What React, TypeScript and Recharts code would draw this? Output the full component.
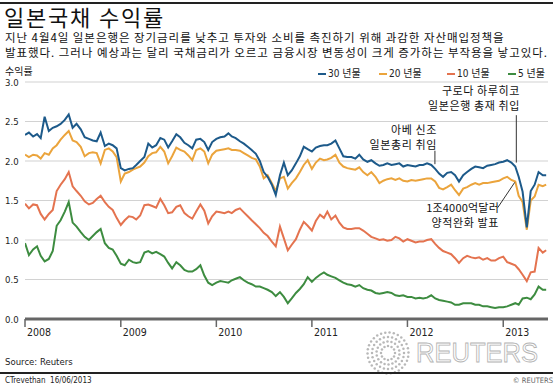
import React from 'react';
import { LineChart, Line, XAxis, YAxis, CartesianGrid, ReferenceLine } from 'recharts';

// Half-monthly observation dates (1st and 16th of each month), Jan 2008 - Jun 2013
const dates: string[] = [];
for (let y = 2008; y <= 2013; y++) {
  for (let m = 1; m <= 12; m++) {
    for (const d of [1, 16]) {
      if (y === 2013 && (m > 6 || (m === 6 && d === 16))) continue;
      dates.push(`${y}-${String(m).padStart(2, '0')}-${String(d).padStart(2, '0')}`);
    }
  }
}
dates.push('2013-06-14');

const yield30 = [
  2.33, 2.36, 2.31, 2.34, 2.29, 2.56, 2.38, 2.42, 2.44, 2.47,
  2.52, 2.59, 2.42, 2.47, 2.40, 2.30, 2.28, 2.26, 2.25, 2.36,
  2.19, 2.22, 2.20, 2.16, 1.91, 1.88, 1.90, 1.91, 1.95, 2.00,
  2.05, 2.22, 2.17, 2.20, 2.29, 2.27, 2.17, 2.25, 2.34, 2.30,
  2.23, 2.20, 2.16, 2.27, 2.28, 2.24, 2.14, 2.24, 2.28, 2.30,
  2.31, 2.35, 2.31, 2.29, 2.25, 2.22, 2.18, 2.14, 2.09, 2.00,
  1.86, 1.80, 1.70, 1.57, 1.82, 1.98, 1.82, 1.88, 1.97, 2.06,
  2.18, 2.15, 2.12, 2.17, 2.19, 2.20, 2.20, 2.22, 2.26, 2.16,
  2.06, 2.05, 2.05, 2.03, 2.08, 2.02, 1.99, 2.01, 1.97, 1.94,
  1.95, 1.97, 1.95, 1.96, 1.97, 1.93, 1.95, 1.94, 1.93, 1.95,
  1.95, 1.97, 1.95, 1.90, 1.84, 1.80, 1.85, 1.86, 1.82, 1.74,
  1.82, 1.86, 1.90, 1.93, 1.92, 1.91, 1.94, 1.95, 1.96, 1.98,
  1.99, 2.01, 1.98, 1.93, 1.80, 1.61, 1.16, 1.62, 1.70, 1.86,
  1.82, 1.82,
];

const yield20 = [
  2.08, 2.05, 2.08, 2.07, 2.03, 2.10, 2.08, 2.16, 2.20, 2.27,
  2.33, 2.38, 2.26, 2.24, 2.18, 2.06, 2.10, 2.11, 2.10, 1.97,
  2.14, 2.16, 2.12, 2.05, 1.74, 1.84, 1.86, 1.89, 1.91, 1.93,
  1.98, 2.06, 2.10, 2.11, 2.18, 2.12, 1.97, 2.06, 2.17, 2.14,
  2.12, 2.07, 2.01, 2.14, 2.16, 2.12, 1.97, 2.08, 2.13, 2.14,
  2.15, 2.16, 2.14, 2.14, 2.13, 2.10, 2.07, 2.04, 2.02, 1.93,
  1.78, 1.82, 1.72, 1.62, 1.78, 1.80, 1.65, 1.72, 1.78, 1.86,
  1.95, 2.01, 1.90, 1.98, 2.03, 2.01, 2.02, 2.04, 2.08, 1.98,
  1.93, 1.91, 1.90, 1.89, 1.92, 1.86, 1.82, 1.86, 1.80, 1.72,
  1.75, 1.77, 1.78, 1.76, 1.78, 1.75, 1.74, 1.76, 1.75, 1.76,
  1.77, 1.78, 1.78, 1.74, 1.66, 1.64, 1.67, 1.70, 1.63, 1.57,
  1.65, 1.67, 1.70, 1.72, 1.70, 1.72, 1.72, 1.73, 1.74, 1.75,
  1.78, 1.80, 1.76, 1.74, 1.56, 1.48, 1.13, 1.50, 1.55, 1.70,
  1.68, 1.70,
];

const yield10 = [
  1.46, 1.40, 1.45, 1.44, 1.33, 1.26, 1.33, 1.38, 1.62, 1.70,
  1.77, 1.86, 1.68, 1.62, 1.56, 1.49, 1.45, 1.47, 1.52, 1.56,
  1.48, 1.42, 1.38, 1.28, 1.19, 1.25, 1.30, 1.29, 1.26, 1.31,
  1.44, 1.45, 1.43, 1.41, 1.52, 1.44, 1.34, 1.35, 1.42, 1.44,
  1.34, 1.30, 1.27, 1.36, 1.45, 1.37, 1.21, 1.30, 1.36, 1.35,
  1.34, 1.36, 1.34, 1.38, 1.40, 1.35, 1.30, 1.25, 1.20, 1.15,
  1.09, 1.05, 0.98, 0.92, 1.17, 1.02, 0.87, 0.94, 1.01, 1.13,
  1.23, 1.18, 1.12, 1.24, 1.32, 1.28, 1.36, 1.26, 1.31, 1.22,
  1.16, 1.14, 1.14, 1.15, 1.15, 1.12, 1.08, 1.04, 1.02, 1.00,
  1.01, 0.99, 1.00, 1.04, 1.02, 0.98, 1.01, 0.99, 0.97, 0.98,
  0.98, 1.00, 1.01, 0.95, 0.90, 0.86, 0.84, 0.82, 0.77, 0.71,
  0.77, 0.80, 0.78, 0.77, 0.78, 0.75, 0.77, 0.74, 0.74, 0.77,
  0.79, 0.72, 0.70, 0.68, 0.63, 0.56, 0.48, 0.59, 0.60, 0.90,
  0.84, 0.87,
];

const yield5 = [
  0.96, 0.81, 0.88, 0.92, 0.80, 0.73, 0.76, 0.86, 1.18, 1.25,
  1.36, 1.48, 1.22, 1.17, 1.10, 1.04, 1.00, 1.05, 1.10, 1.14,
  0.96, 0.90, 0.88, 0.80, 0.70, 0.68, 0.75, 0.72, 0.71, 0.72,
  0.84, 0.86, 0.83, 0.85, 0.82, 0.79, 0.71, 0.64, 0.72, 0.68,
  0.62, 0.60, 0.60, 0.63, 0.68, 0.55, 0.46, 0.43, 0.46, 0.48,
  0.47, 0.46, 0.49, 0.51, 0.53, 0.49, 0.46, 0.44, 0.41, 0.41,
  0.39, 0.37, 0.34, 0.29, 0.34, 0.28, 0.20, 0.26, 0.33, 0.38,
  0.44, 0.53, 0.47, 0.52, 0.56, 0.59, 0.56, 0.54, 0.52, 0.49,
  0.46, 0.44, 0.43, 0.41, 0.43, 0.39, 0.37, 0.36, 0.33, 0.32,
  0.33, 0.34, 0.33, 0.30, 0.29, 0.30, 0.28, 0.28, 0.26, 0.27,
  0.26, 0.27, 0.30, 0.26, 0.24, 0.23, 0.22, 0.21, 0.18, 0.18,
  0.20, 0.20, 0.20, 0.18, 0.18, 0.16, 0.16, 0.15, 0.14, 0.15,
  0.15, 0.16, 0.18, 0.20, 0.18, 0.26, 0.27, 0.25, 0.31, 0.41,
  0.37, 0.37,
];

const yearTicks = [2008, 2009, 2010, 2011, 2012, 2013];
const yTicks = [0, 0.5, 1.0, 1.5, 2.0, 2.5, 3.0];

const seriesNames = ['30 년물', '20 년물', '10 년물', '5 년물'];
const seriesColors = ['#1d5a8a', '#eba43c', '#e4734f', '#3d8c40'];

const title = '일본국채 수익률';
const subtitle1 = '지난 4월4일 일본은행은 장기금리를 낮추고 투자와 소비를 촉진하기 위해 과감한 자산매입정책을';
const subtitle2 = '발표했다. 그러나 예상과는 달리 국채금리가 오르고 금융시장 변동성이 크게 증가하는 부작용을 낳고있다.';

// annotation anchors (date, yield)
const kurodaDate = '2013-02-20';
const abeDate = '2012-04-15';
const qeFrom = { date: '2012-12-11', v: 1.41 };
const qeTo = { date: '2013-02-14', v: 1.73 };

const ts = (s: string) => {
  const [y, m, d] = s.split('-').map(Number);
  return Date.UTC(y, m - 1, d);
};

const data = dates.map((d, i) => ({
  t: ts(d),
  y30: yield30[i],
  y20: yield20[i],
  y10: yield10[i],
  y5: yield5[i],
}));

const NARROW = '"Liberation Sans Narrow", "DejaVu Sans Condensed", "Noto Sans CJK KR", sans-serif';
const KR = '"Noto Sans CJK KR", "Noto Sans", sans-serif';

const XTick = (props: any) => {
  const { x, y, payload } = props;
  return (
    <text x={x + 2} y={y + 7} fontSize={10.5} fontFamily={NARROW} fill="#222" textAnchor="start">
      {new Date(payload.value).getUTCFullYear()}
    </text>
  );
};

const YTick = (props: any) => {
  const { y, payload } = props;
  return (
    <text x={5} y={y + 3.5} fontSize={9.5} fontFamily={NARROW} fill="#222" textAnchor="start">
      {Number(payload.value).toFixed(1)}
    </text>
  );
};

const abs = (s: React.CSSProperties): React.CSSProperties => ({ position: 'absolute', whiteSpace: 'nowrap', ...s });

const legendX = [318, 379, 447, 508];

const note = (right: number, top: number, line1: string, line2: string, ls1 = 0.6) => (
  <div style={abs({ right: 560 - right, top, fontSize: 11, lineHeight: '14.5px', color: '#111', letterSpacing: 0.6, textAlign: 'right' })}>
    <span style={{ letterSpacing: ls1 }}>{line1}</span>
    <br />
    {line2}
  </div>
);

function ReutersLogo() {
  const rings = [
    { r: 7, n: 12 },
    { r: 11.5, n: 18 },
    { r: 16, n: 24 },
    { r: 20.5, n: 30 },
  ];
  const cx = 388;
  const cy = 353;
  const dots: React.ReactNode[] = [];
  rings.forEach((ring, ri) => {
    for (let k = 0; k < ring.n; k++) {
      const a = (k / ring.n) * Math.PI * 2 + ri * 0.13;
      dots.push(
        <circle key={`${ri}-${k}`} cx={cx + ring.r * Math.cos(a)} cy={cy + ring.r * Math.sin(a)} r={1.25} fill="#b8b8b8" />
      );
    }
  });
  return (
    <svg width={560} height={384} style={{ position: 'absolute', left: 0, top: 0, pointerEvents: 'none' }}>
      {dots}
      <text
        x={416}
        y={362}
        fontSize={28}
        fontFamily='"Liberation Sans", sans-serif'
        fill="none"
        stroke="#b4b4b4"
        strokeWidth={0.9}
        textLength={122}
        lengthAdjust="spacingAndGlyphs"
      >
        REUTERS
      </text>
    </svg>
  );
}

export default function App() {
  return (
    <div style={{ position: 'absolute', left: 0, top: 0, width: 560, height: 384, background: '#fff', overflow: 'hidden', fontFamily: KR }}>
      <div style={abs({ left: 0, top: 2, width: 553, height: 2, background: '#222' })} />
      <div style={abs({ left: 4, top: 6, fontSize: 22, lineHeight: '21px', color: '#111', letterSpacing: 1.8 })}>{title}</div>
      <div style={abs({ left: 5, top: 31, fontSize: 11.5, lineHeight: '13px', color: '#111', letterSpacing: 0.95 })}>{subtitle1}</div>
      <div style={abs({ left: 5, top: 46, fontSize: 11.5, lineHeight: '13px', color: '#111', letterSpacing: 0.95 })}>{subtitle2}</div>
      <div style={abs({ left: 5, top: 65, fontSize: 10, lineHeight: '11px', color: '#111' })}>수익률</div>

      {seriesNames.map((n, i) => (
        <div key={n} style={abs({ left: legendX[i], top: 68, fontSize: 10, lineHeight: '12px', color: '#222', fontFamily: NARROW, display: 'flex', alignItems: 'center' })}>
          <span style={{ display: 'inline-block', width: 8, height: 2, background: seriesColors[i], marginRight: 2 }} />
          <span>{n}</span>
        </div>
      ))}

      <div style={{ position: 'absolute', left: 0, top: 0 }}>
        <LineChart width={560} height={384} data={data} margin={{ top: 82, right: 12, bottom: 35, left: 0 }}>
          <CartesianGrid vertical={false} stroke="#d2d2d2" strokeWidth={1.2} />
          <XAxis
            dataKey="t"
            type="number"
            scale="time"
            domain={[ts('2008-01-01'), ts('2013-06-21')]}
            ticks={yearTicks.map((y) => ts(`${y}-01-01`))}
            interval={0}
            tick={<XTick />}
            tickSize={8}
            height={30}
            axisLine={{ stroke: '#666', strokeWidth: 3 }}
            tickLine={{ stroke: '#666', strokeWidth: 1.5 }}
            allowDataOverflow
          />
          <YAxis
            domain={[0, 3]}
            ticks={yTicks}
            interval={0}
            tick={<YTick />}
            axisLine={false}
            tickLine={false}
            width={25}
          />
          <Line dataKey="y5" stroke={seriesColors[3]} strokeWidth={2} dot={false} isAnimationActive={false} />
          <Line dataKey="y10" stroke={seriesColors[2]} strokeWidth={2} dot={false} isAnimationActive={false} />
          <Line dataKey="y20" stroke={seriesColors[1]} strokeWidth={2} dot={false} isAnimationActive={false} />
          <Line dataKey="y30" stroke={seriesColors[0]} strokeWidth={2} dot={false} isAnimationActive={false} />
          <ReferenceLine
            segment={[{ x: ts(kurodaDate), y: 2.58 }, { x: ts(kurodaDate), y: 1.98 }]}
            stroke="#333"
            strokeWidth={1}
            ifOverflow="visible"
          />
          <ReferenceLine
            segment={[{ x: ts(abeDate), y: 2.13 }, { x: ts(abeDate), y: 1.96 }]}
            stroke="#333"
            strokeWidth={1}
            ifOverflow="visible"
          />
          <ReferenceLine
            segment={[{ x: ts(qeFrom.date), y: qeFrom.v }, { x: ts(qeTo.date), y: qeTo.v }]}
            stroke="#333"
            strokeWidth={1}
            ifOverflow="visible"
          />
        </LineChart>
      </div>

      {note(520, 83, '구로다 하루히코', '일본은행 총재 취입')}
      {note(437, 122, '아베 신조', '일본총리 취임')}
      {note(499, 200, '1조4000억달러', '양적완화 발표', 0.2)}

      <ReutersLogo />

      <div style={abs({ left: 5, top: 355, fontSize: 9.5, lineHeight: '13px', color: '#222', fontFamily: NARROW })}>Source: Reuters</div>
      <div style={abs({ left: 0, top: 372, width: 553, height: 1.5, background: '#222' })} />
      <div style={abs({ left: 5, top: 375, fontSize: 8, lineHeight: '11px', color: '#222', fontFamily: NARROW })}>CTrevethan&nbsp;&nbsp;16/06/2013</div>
      <div style={abs({ right: 7, top: 375, fontSize: 7.5, lineHeight: '11px', color: '#666', fontFamily: NARROW })}>© REUTERS</div>
    </div>
  );
}
